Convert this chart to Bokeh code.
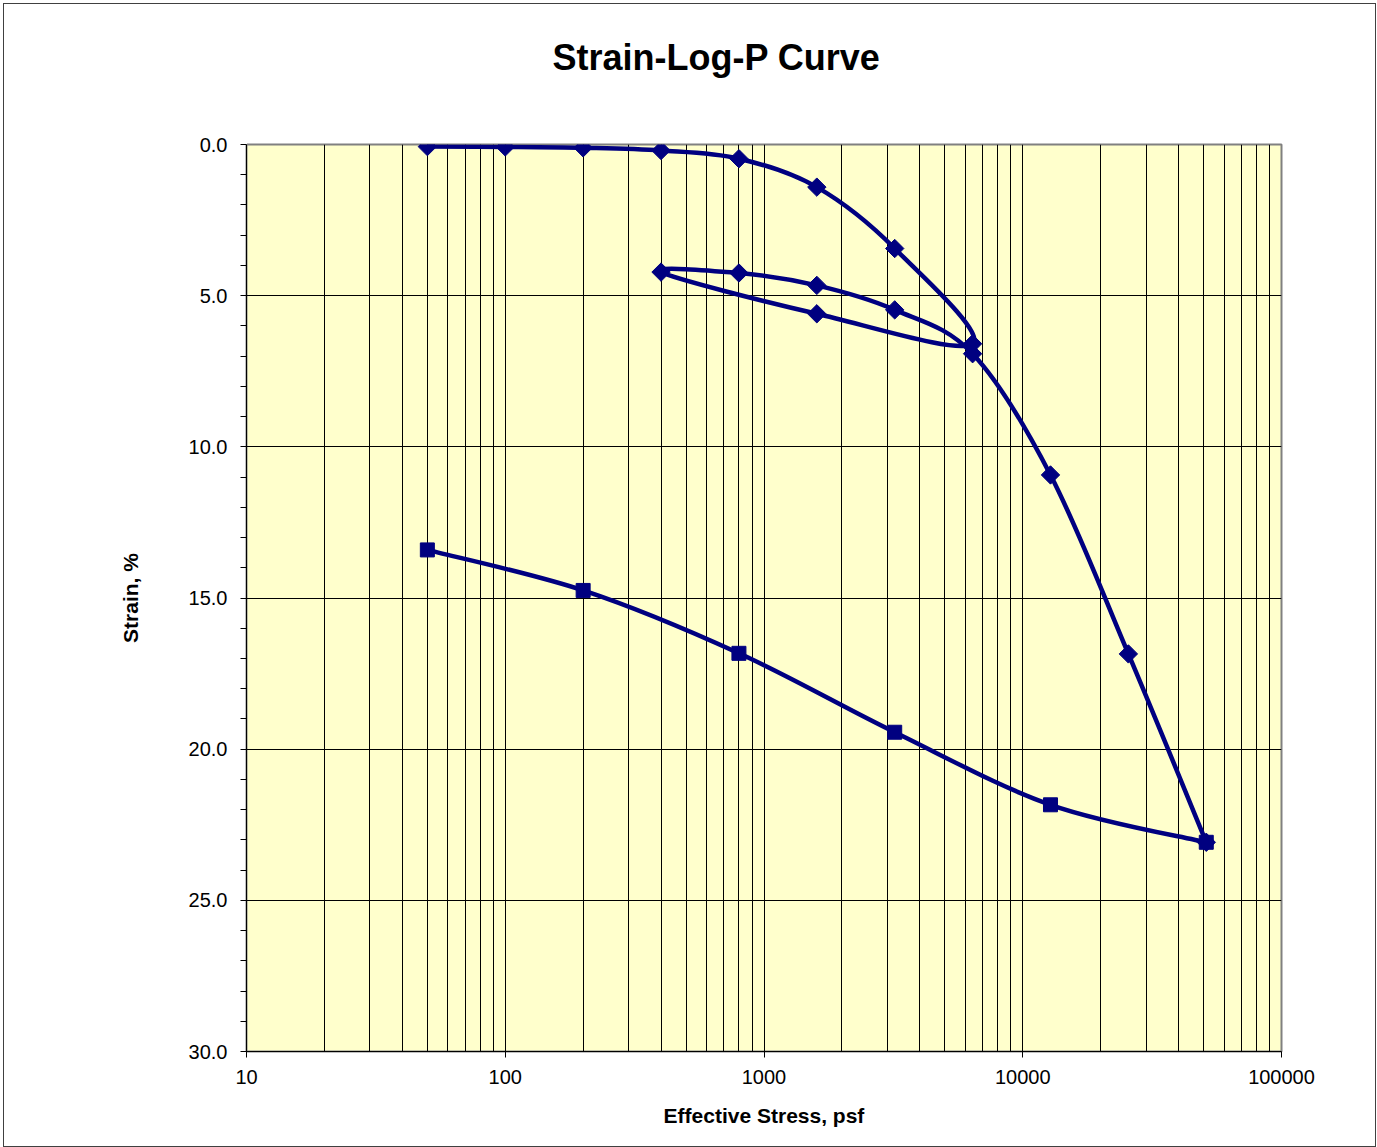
import numpy as np
from bokeh.plotting import figure
from bokeh.models import Range1d, FixedTicker, NumeralTickFormatter, LogAxis, Title
from bokeh.embed import file_html
from bokeh.resources import INLINE

# ---- data ----
# loading to 6400, unloading 1600 / 400, reloading by doubling to 51200
curve_stress = [50, 100, 200, 400, 800, 1600, 3200, 6400, 1600, 400,
                800, 1600, 3200, 6400, 12800, 25600, 51200]
curve_strain = [0.07, 0.08, 0.11, 0.20, 0.47, 1.41, 3.44, 6.59, 5.60, 4.22,
                4.25, 4.66, 5.47, 6.92, 10.93, 16.85, 23.08]
# final rebound
rebound_stress = [51200, 12800, 3200, 800, 200, 50]
rebound_strain = [23.08, 21.84, 19.44, 16.83, 14.75, 13.41]

x_ticks = [10, 100, 1000, 10000, 100000]
y_ticks = [0, 5, 10, 15, 20, 25, 30]

TITLE = "Strain-Log-P Curve"
X_LABEL = "Effective Stress, psf"
Y_LABEL = "Strain, %"

FONT = "Liberation Sans"
NAVY = "#000080"

MARGIN = 4
FRAME_W, FRAME_H = 1035, 907
LEFT, TOP = 246 - MARGIN, 144 - MARGIN
W, H = 1371, 1142

x_minor = [d * k for d in x_ticks[:-1] for k in range(2, 10)]
y_minor = [v for v in range(y_ticks[0], y_ticks[-1] + 1) if v not in y_ticks]

p = figure(width=W, height=H, x_axis_type="log",
           x_range=Range1d(x_ticks[0], x_ticks[-1]), y_range=Range1d(y_ticks[-1], y_ticks[0]),
           output_backend="svg", toolbar_location=None,
           min_border_left=LEFT, min_border_top=TOP,
           min_border_right=W - LEFT - FRAME_W, min_border_bottom=H - TOP - FRAME_H,
           title=None)
p.styles = {"margin": f"{MARGIN}px", "outline": "1px solid #404040"}

p.background_fill_color = "#FFFFCC"
p.border_fill_color = "white"
p.outline_line_color = "#808080"
p.outline_line_width = 2

xa = p.below[0]
ya = p.left[0]

# invisible spacer axis between frame and title (one white tick, only reserves space)
spacer = LogAxis(ticker=FixedTicker(ticks=x_ticks[:1], minor_ticks=[]),
                 major_tick_out=62, major_tick_in=0, major_label_standoff=0,
                 axis_line_color=None, major_tick_line_color="white",
                 minor_tick_line_color=None, major_label_text_font_size="1px",
                 major_label_text_color="white",
                 major_label_overrides={x_ticks[0]: ""})
p.add_layout(spacer, "above")

title = Title(text=TITLE, text_font=FONT, text_font_size="36px", text_font_style="bold",
              text_color="black", align="left", offset=306, standoff=10)
p.add_layout(title, "above")

# axes
xa.ticker = FixedTicker(ticks=x_ticks, minor_ticks=x_minor)
xa.formatter = NumeralTickFormatter(format="0")
xa.axis_label = X_LABEL
ya.ticker = FixedTicker(ticks=y_ticks, minor_ticks=y_minor)
ya.formatter = NumeralTickFormatter(format="0.0")
ya.axis_label = Y_LABEL

for ax in (xa, ya):
    ax.axis_line_color = "black"
    ax.axis_line_width = 1
    ax.major_tick_line_color = "black"
    ax.minor_tick_line_color = "black"
    ax.major_tick_in = 0
    ax.major_tick_out = 6
    ax.minor_tick_in = 0
    ax.major_label_text_font = FONT
    ax.major_label_text_font_size = "20px"
    ax.major_label_text_color = "black"
    ax.axis_label_text_font = FONT
    ax.axis_label_text_font_size = "21px"
    ax.axis_label_text_font_style = "bold"
    ax.axis_label_text_color = "black"
xa.minor_tick_out = 0
xa.minor_tick_line_color = None
ya.minor_tick_out = 6
xa.major_label_standoff = 12
xa.axis_label_standoff = 17
ya.major_label_standoff = 13
ya.axis_label_standoff = 44

# grids
p.xgrid.grid_line_color = "black"
p.xgrid.grid_line_width = 1
p.xgrid.minor_grid_line_color = "black"
p.xgrid.minor_grid_line_width = 1
p.ygrid.grid_line_color = "black"
p.ygrid.grid_line_width = 1
p.ygrid.minor_grid_line_color = None

# Smoothed curve (Bezier through the points, like a spreadsheet "smoothed line")
SX = FRAME_W / (np.log10(x_ticks[-1]) - np.log10(x_ticks[0]))
SY = FRAME_H / (y_ticks[-1] - y_ticks[0])


def smooth(xs, ys):
    P = np.column_stack([np.log10(xs) * SX, np.asarray(ys, float) * SY])
    E = np.vstack([P[0], P, P[-1]])
    out = dict(x0=[], y0=[], x1=[], y1=[], cx0=[], cy0=[], cx1=[], cy1=[])

    def put(kx, ky, q):
        out[kx].append(10 ** (q[0] / SX))
        out[ky].append(q[1] / SY)

    for i in range(len(P) - 1):
        p0, p1, p2, p3 = E[i], E[i + 1], E[i + 2], E[i + 3]
        put("x0", "y0", p1)
        put("x1", "y1", p2)
        put("cx0", "cy0", p1 + (p2 - p0) / 6.0)
        put("cx1", "cy1", p2 - (p3 - p1) / 6.0)
    return out


for xs, ys in ((curve_stress, curve_strain), (rebound_stress, rebound_strain)):
    s = smooth(xs, ys)
    p.bezier(x0=s["x0"], y0=s["y0"], x1=s["x1"], y1=s["y1"],
             cx0=s["cx0"], cy0=s["cy0"], cx1=s["cx1"], cy1=s["cy1"],
             line_color=NAVY, line_width=4.5)

p.scatter(curve_stress, curve_strain, marker="square", angle=np.pi / 4, size=13,
          fill_color=NAVY, line_color=NAVY)
p.scatter(rebound_stress, rebound_strain, marker="square", size=14,
          fill_color=NAVY, line_color=NAVY)

open("out.html", "w").write(file_html(p, INLINE))
